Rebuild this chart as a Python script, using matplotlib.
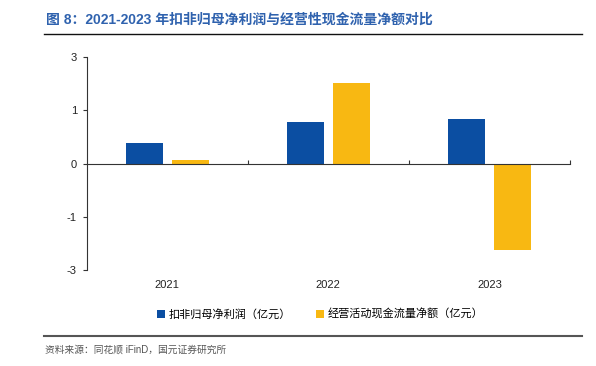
import matplotlib.pyplot as plt
from matplotlib.lines import Line2D
import numpy as np

plt.rcParams['font.family'] = ['Liberation Sans', 'Noto Sans CJK SC', 'DejaVu Sans']

years = ['2021', '2022', '2023']
net_profit = [0.52, 1.07, 1.14]        # 扣非归母净利润（亿元）
op_cashflow = [0.09, 2.05, -2.20]      # 经营活动现金流量净额（亿元）
yticks = [-2.7, -1.35, 0, 1.35, 2.7]

blue = '#0B4EA2'
yellow = '#F8B812'

fig = plt.figure(figsize=(5.96, 3.66), dpi=100)
ax = fig.add_axes([0.1455, 0.2623, 0.8109, 0.5811])

x = np.arange(len(years))
w = 0.23
off = 0.143
ax.bar(x - off, net_profit, w, color=blue, label='扣非归母净利润（亿元）')
ax.bar(x + off, op_cashflow, w, color=yellow, label='经营活动现金流量净额（亿元）')

ax.set_xlim(-0.5, 2.5)
ax.set_ylim(-2.7, 2.7)
ax.set_yticks(yticks)
ax.set_yticklabels([f'{v:.0f}' for v in yticks])
ax.tick_params(axis='y', length=3, width=0.8, color='#333333', labelsize=8, labelcolor='#222222', pad=4)

# category axis sits on zero, ticks at the group boundaries
ax.spines['bottom'].set_position(('data', 0))
ax.spines['top'].set_visible(False)
ax.spines['right'].set_visible(False)
ax.spines['left'].set_color('#333333')
ax.spines['bottom'].set_color('#333333')
ax.spines['left'].set_linewidth(0.8)
ax.spines['bottom'].set_linewidth(0.8)
ax.set_xticks([0.5, 1.5, 2.5])
ax.set_xticklabels([])
ax.tick_params(axis='x', direction='in', length=3, width=0.8, color='#333333')
for xi, yr in zip(x, years):
    ax.text(xi, -0.045, yr, transform=ax.get_xaxis_transform(), ha='center', va='top',
            fontsize=8, color='#222222')

fig.legend(loc='center', bbox_to_anchor=(0.537, 1 - 314 / 366), ncol=2, frameon=False,
           fontsize=8, handlelength=0.7, handleheight=0.7, handletextpad=0.3,
           columnspacing=2.3)

# title and rules
fig.text(46 / 596, 1 - 20 / 366, '图 8：2021-2023 年扣非归母净利润与经营性现金流量净额对比',
         fontsize=10, fontweight='bold', color='#2F62AE', ha='left', va='center')
fig.add_artist(Line2D([44 / 596, 582 / 596], [1 - 34 / 366] * 2, color='#111111', lw=1.0))
fig.add_artist(Line2D([44 / 596, 582 / 596], [1 - 336 / 366] * 2, color='#555555', lw=1.5))
fig.text(45 / 596, 1 - 350 / 366, '资料来源：同花顺 iFinD，国元证券研究所',
         fontsize=7, color='#555555', ha='left', va='center')

fig.savefig('out.png', dpi=100)
